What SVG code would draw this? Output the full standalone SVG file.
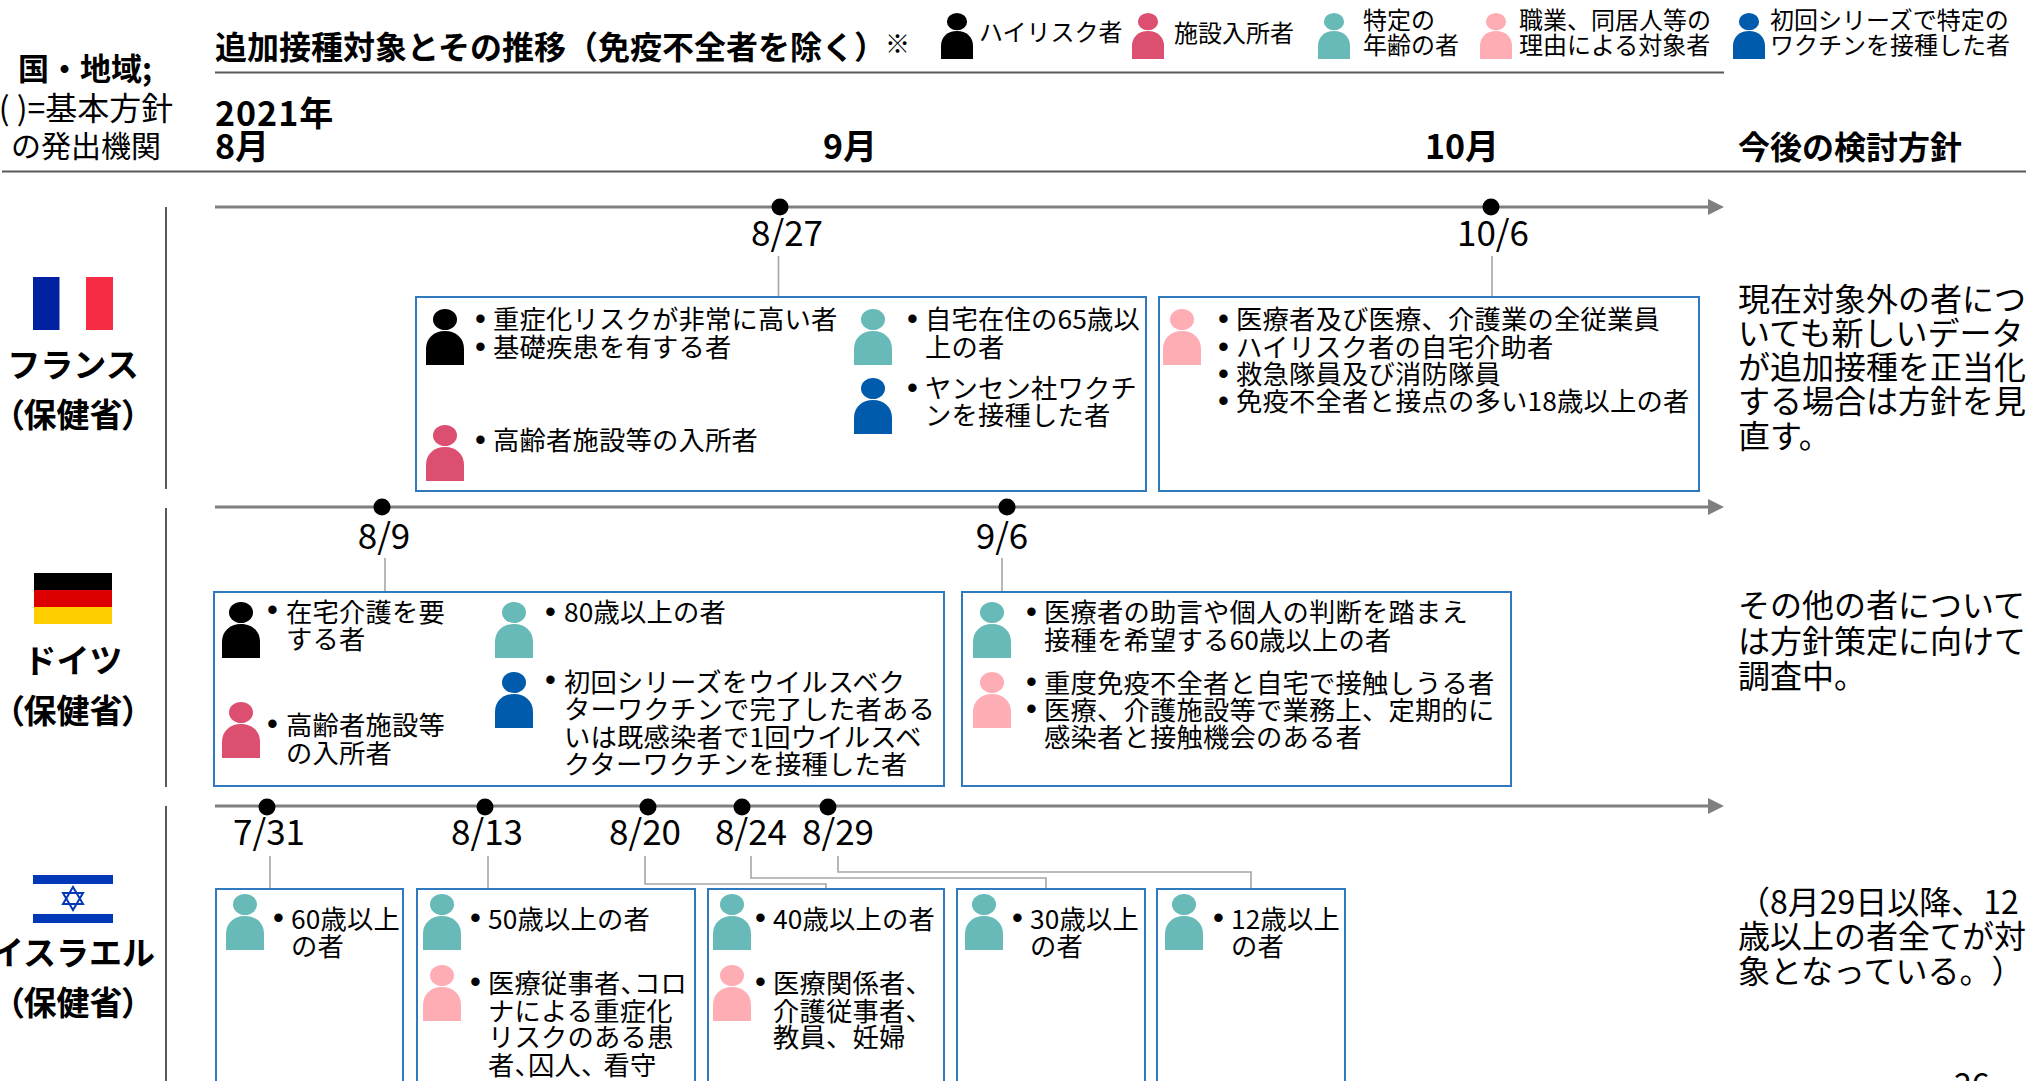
<svg xmlns="http://www.w3.org/2000/svg" xmlns:xlink="http://www.w3.org/1999/xlink" width="2028" height="1081" viewBox="0 0 2028 1081">
<style>
text{font-family:"Noto Sans CJK JP","Noto Sans",sans-serif;fill:#000;text-spacing-trim:space-all;}
.b{font-size:26.3px;letter-spacing:.2px}
.v{font-family:"Liberation Sans",sans-serif;font-size:31px}
.l{font-size:24px}
.d{font-size:35px;text-anchor:middle}
.h{font-size:34px;font-weight:700}
.n{font-size:33px;font-weight:700;text-anchor:middle}
.m{font-feature-settings:"palt"}
.r{font-size:32px}
.s{font-size:30px;text-anchor:middle}
.box{fill:#fff;stroke:#2f7abf;stroke-width:2}
.tl{stroke:#7f7f7f;stroke-width:3;fill:none}
.con{stroke:#a6a6a6;stroke-width:1.6;fill:none}
.rule{stroke:#595959;stroke-width:2;fill:none}
.k{fill:#000}.p{fill:#dc4f70}.t{fill:#67bab7}.q{fill:#ffadb5}.u{fill:#005bac}
</style>
<defs>
<symbol id="person" viewBox="0 0 38 56" width="38" height="56" preserveAspectRatio="none" overflow="visible">
<ellipse cx="19" cy="10.5" rx="12" ry="10.5"/>
<path d="M0 56V40C0 29 8 22 19 22S38 29 38 40V56Z"/>
</symbol>
<marker id="arr" markerUnits="userSpaceOnUse" markerWidth="18" markerHeight="16" refX="2" refY="8" orient="auto"><path d="M0 0L16 8L0 16Z" fill="#7f7f7f"/></marker>
</defs>
<rect width="2028" height="1081" fill="#fff"/>

<g id="connectors">
<path class="rule" d="M215 72.500H1724M2 171.500H2026"/>
<path class="rule" d="M166 207V489M166 508V787M166 806V1081"/>
<path class="tl" d="M215 207H1710" marker-end="url(#arr)"/>
<path class="tl" d="M215 507H1710" marker-end="url(#arr)"/>
<path class="tl" d="M215 806H1710" marker-end="url(#arr)"/>
<path class="con" d="M778.500 256V297M1492 256V297M385 558V592M1002 558V592M270 856V889M488 856V889M645 856V884H826V889M751 856V878H1046V889M838 856V872H1251V889"/>
</g>

<g id="header">
<text x="85" y="80" class="s" style="font-weight:700;font-size:31px">国・地域;</text>
<text x="86" y="120" class="s" style="font-size:32px">( )=基本方針</text>
<text x="86" y="157" class="s">の発出機関</text>
<text x="215" y="59" class="h" style="font-size:32px">追加接種対象とその推移（免疫不全者を除く）</text>
<text x="885" y="53" style="font-size:25px">※</text>
<text x="215" y="126" class="h" style="letter-spacing:1px">2021年</text>
<text x="215" y="159" class="h">8月</text>
<text x="823" y="159" class="h">9月</text>
<text x="1425" y="159" class="h">10月</text>
<text x="1738" y="159" class="h" style="font-size:32px">今後の検討方針</text>
</g>

<g id="legend">
<use href="#person" class="k" x="941" y="13" width="32" height="46"/>
<text x="979" y="41" class="l">ハイリスク者</text>
<use href="#person" class="p" x="1132" y="13" width="32" height="46"/>
<text x="1174" y="42" class="l">施設入所者</text>
<use href="#person" class="t" x="1318" y="13" width="32" height="46"/>
<text x="1363" y="29" class="l">特定の</text><text x="1363" y="54" class="l">年齢の者</text>
<use href="#person" class="q" x="1480" y="13" width="32" height="46"/>
<text x="1519" y="29" class="l">職業、同居人等の</text><text x="1519" y="54" class="l">理由による対象者</text>
<use href="#person" class="u" x="1733" y="13" width="32" height="46"/>
<text x="1770" y="29" class="l">初回シリーズで特定の</text><text x="1770" y="54" class="l">ワクチンを接種した者</text>
</g>

<g id="timeline-dots">
<circle cx="780" cy="207" r="8.500"/><circle cx="1491" cy="207" r="8.500"/>
<circle cx="382" cy="507" r="8.500"/><circle cx="1007" cy="507" r="8.500"/>
<circle cx="267" cy="807" r="8.500"/><circle cx="485" cy="807" r="8.500"/><circle cx="648" cy="807" r="8.500"/><circle cx="742" cy="807" r="8.500"/><circle cx="828" cy="807" r="8.500"/>
</g>
<g id="dates">
<text x="787" y="246" class="d">8/27</text><text x="1493" y="246" class="d">10/6</text>
<text x="384" y="549" class="d">8/9</text><text x="1002" y="549" class="d">9/6</text>
<text x="269" y="845" class="d">7/31</text><text x="487" y="845" class="d">8/13</text><text x="645" y="845" class="d">8/20</text><text x="751" y="845" class="d">8/24</text><text x="838" y="845" class="d">8/29</text>
</g>

<g id="country-france">
<rect x="33" y="277" width="26.500" height="53" fill="#0021a0"/><rect x="86" y="277" width="27" height="53" fill="#f62c44"/>
<text x="73" y="377" class="n">フランス</text><text x="73" y="427" class="n m">（保健省）</text>
</g>
<g id="country-germany">
<rect x="34" y="573" width="78" height="17" fill="#000"/><rect x="34" y="590" width="78" height="17" fill="#dd0000"/><rect x="34" y="607" width="78" height="17" fill="#ffce00"/>
<text x="73" y="673" class="n">ドイツ</text><text x="73" y="723" class="n m">（保健省）</text>
</g>
<g id="country-israel">
<rect x="33" y="875" width="80" height="9" fill="#0038b8"/><rect x="33" y="914" width="80" height="9" fill="#0038b8"/>
<path d="M73 887L83 904H63ZM73 910L63 893H83Z" fill="none" stroke="#0038b8" stroke-width="2"/>
<text x="73" y="965" class="n">イスラエル</text><text x="73" y="1015" class="n m">（保健省）</text>
</g>

<g id="fr-box1">
<rect class="box" x="416" y="297" width="730" height="194"/>
<use href="#person" class="k" x="426" y="309"/>
<use href="#person" class="p" x="426" y="425"/>
<use href="#person" class="t" x="854" y="309"/>
<use href="#person" class="u" x="854" y="378"/>
<text x="475" y="329" class="v">•</text><text x="493" y="329" class="b">重症化リスクが非常に高い者</text>
<text x="475" y="357" class="v">•</text><text x="493" y="357" class="b">基礎疾患を有する者</text>
<text x="475" y="450" class="v">•</text><text x="493" y="450" class="b">高齢者施設等の入所者</text>
<text x="907" y="329" class="v">•</text><text x="925" y="329" class="b">自宅在住の65歳以</text><text x="925" y="357" class="b">上の者</text>
<text x="907" y="398" class="v">•</text><text x="925" y="398" class="b">ヤンセン社ワクチ</text><text x="925" y="425" class="b">ンを接種した者</text>
</g>
<g id="fr-box2">
<rect class="box" x="1159" y="297" width="540" height="194"/>
<use href="#person" class="q" x="1163" y="309"/>
<text x="1218" y="329" class="v">•</text><text x="1236" y="329" class="b">医療者及び医療、介護業の全従業員</text>
<text x="1218" y="357" class="v">•</text><text x="1236" y="357" class="b">ハイリスク者の自宅介助者</text>
<text x="1218" y="384" class="v">•</text><text x="1236" y="384" class="b">救急隊員及び消防隊員</text>
<text x="1218" y="411" class="v">•</text><text x="1236" y="411" class="b">免疫不全者と接点の多い18歳以上の者</text>
</g>
<g id="de-box1">
<rect class="box" x="214" y="592" width="730" height="194"/>
<use href="#person" class="k" x="222" y="602"/>
<use href="#person" class="p" x="222" y="702"/>
<use href="#person" class="t" x="495" y="602"/>
<use href="#person" class="u" x="495" y="672"/>
<text x="267" y="620" class="v">•</text><text x="286" y="622" class="b">在宅介護を要</text><text x="286" y="649" class="b">する者</text>
<text x="267" y="734" class="v">•</text><text x="286" y="735" class="b">高齢者施設等</text><text x="286" y="763" class="b">の入所者</text>
<text x="545" y="622" class="v">•</text><text x="564" y="622" class="b">80歳以上の者</text>
<text x="545" y="690" class="v">•</text><text x="564" y="692" class="b">初回シリーズをウイルスベク</text><text x="564" y="719" class="b">ターワクチンで完了した者ある</text><text x="564" y="747" class="b">いは既感染者で1回ウイルスベ</text><text x="564" y="774" class="b">クターワクチンを接種した者</text>
</g>
<g id="de-box2">
<rect class="box" x="962" y="592" width="549" height="194"/>
<use href="#person" class="t" x="973" y="602"/>
<use href="#person" class="q" x="973" y="672"/>
<text x="1026" y="622" class="v">•</text><text x="1044" y="622" class="b">医療者の助言や個人の判断を踏まえ</text><text x="1044" y="650" class="b">接種を希望する60歳以上の者</text>
<text x="1026" y="692" class="v">•</text><text x="1044" y="693" class="b">重度免疫不全者と自宅で接触しうる者</text>
<text x="1026" y="719" class="v">•</text><text x="1044" y="720" class="b">医療、介護施設等で業務上、定期的に</text><text x="1044" y="747" class="b">感染者と接触機会のある者</text>
</g>
<g id="il-box1">
<rect class="box" x="216" y="889" width="187" height="210"/>
<use href="#person" class="t" x="226" y="894"/>
<text x="273" y="928" class="v">•</text><text x="291" y="929" class="b">60歳以上</text><text x="291" y="956" class="b">の者</text>
</g>
<g id="il-box2">
<rect class="box" x="417" y="889" width="278" height="210"/>
<use href="#person" class="t" x="423" y="894"/>
<use href="#person" class="q" x="423" y="965"/>
<text x="470" y="928" class="v">•</text><text x="488" y="929" class="b">50歳以上の者</text>
<text x="470" y="992" class="v">•</text><text x="488" y="993" class="b">医療従事者、<tspan dx="-13">コロ</tspan></text><text x="488" y="1021" class="b">ナによる重症化</text><text x="488" y="1047" class="b">リスクのある患</text><text x="488" y="1075" class="b">者、<tspan dx="-13">囚人、</tspan><tspan dx="-4">看守</tspan></text>
</g>
<g id="il-box3">
<rect class="box" x="708" y="889" width="236" height="210"/>
<use href="#person" class="t" x="713" y="894"/>
<use href="#person" class="q" x="713" y="965"/>
<text x="755" y="928" class="v">•</text><text x="773" y="929" class="b">40歳以上の者</text>
<text x="755" y="992" class="v">•</text><text x="773" y="993" class="b">医療関係者、</text><text x="773" y="1021" class="b">介護従事者、</text><text x="773" y="1047" class="b">教員、妊婦</text>
</g>
<g id="il-box4">
<rect class="box" x="957" y="889" width="188" height="210"/>
<use href="#person" class="t" x="965" y="894"/>
<text x="1012" y="928" class="v">•</text><text x="1030" y="929" class="b">30歳以上</text><text x="1030" y="956" class="b">の者</text>
</g>
<g id="il-box5">
<rect class="box" x="1157" y="889" width="188" height="210"/>
<use href="#person" class="t" x="1165" y="894"/>
<text x="1213" y="928" class="v">•</text><text x="1231" y="929" class="b">12歳以上</text><text x="1231" y="956" class="b">の者</text>
</g>

<g id="policy">
<text x="1738" y="311" class="r">現在対象外の者につ</text><text x="1738" y="345" class="r">いても新しいデータ</text><text x="1738" y="379" class="r">が追加接種を正当化</text><text x="1738" y="413" class="r">する場合は方針を見</text><text x="1738" y="448" class="r">直す。</text>
<text x="1738" y="617" class="r">その他の者について</text><text x="1738" y="653" class="r">は方針策定に向けて</text><text x="1738" y="688" class="r">調査中。</text>
<text x="1738" y="914" class="r">（8月29日以降、12</text><text x="1738" y="948" class="r">歳以上の者全てが対</text><text x="1738" y="983" class="r">象となっている。）</text>
</g>
<text x="1954" y="1096" style="font-size:32px">26</text>
</svg>
